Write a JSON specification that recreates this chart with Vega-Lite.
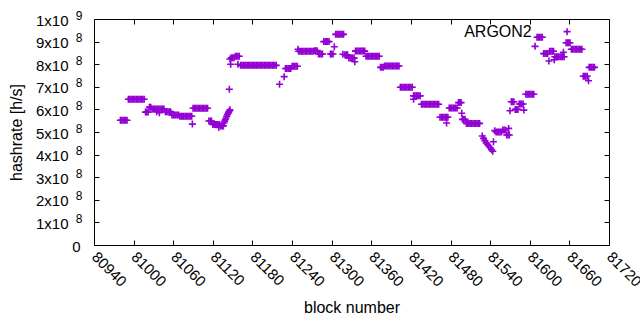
{
  "$schema": "https://vega.github.io/schema/vega-lite/v6.json",
  "autosize": "none",
  "width": 515,
  "height": 226,
  "padding": {"left": 94, "top": 19, "right": 31, "bottom": 85},
  "background": "white",
  "config": {
    "view": {"stroke": "black", "strokeWidth": 1},
    "font": "Liberation Sans",
    "axis": {"grid": false, "domain": false, "tickColor": "black", "tickSize": -5, "tickWidth": 1, "labelColor": "black", "labelFontSize": 15, "labelFont": "Liberation Sans", "titleFont": "Liberation Sans", "titleFontSize": 16, "titleFontWeight": "normal", "titleColor": "black", "labelOverlap": false, "labelFlush": false}
  },
  "datasets": {
    "pts": [
      {"b":80980,"h":5.52e8},{"b":80982,"h":5.52e8},{"b":80984,"h":5.52e8},{"b":80986,"h":5.52e8},{"b":80988,"h":5.52e8},{"b":80990,"h":5.52e8},
      {"b":80992,"h":6.45e8},{"b":80994,"h":6.45e8},{"b":80996,"h":6.45e8},{"b":80998,"h":6.45e8},{"b":81000,"h":6.45e8},{"b":81002,"h":6.45e8},{"b":81004,"h":6.45e8},{"b":81006,"h":6.45e8},{"b":81008,"h":6.45e8},{"b":81010,"h":6.45e8},{"b":81012,"h":6.45e8},{"b":81014,"h":6.45e8},{"b":81016,"h":6.45e8},
      {"b":81018,"h":5.88e8},{"b":81020,"h":5.88e8},{"b":81022,"h":5.88e8},
      {"b":81024,"h":6.1e8},{"b":81026,"h":6.1e8},
      {"b":81028,"h":6.02e8},{"b":81030,"h":6.02e8},{"b":81032,"h":6.02e8},{"b":81034,"h":6.02e8},{"b":81036,"h":6.02e8},{"b":81038,"h":6.02e8},{"b":81040,"h":6.02e8},{"b":81042,"h":6.02e8},{"b":81044,"h":6.02e8},{"b":81046,"h":6.02e8},
      {"b":81035,"h":5.9e8},{"b":81039,"h":5.85e8},
      {"b":81048,"h":5.9e8},{"b":81050,"h":5.9e8},{"b":81052,"h":5.9e8},{"b":81054,"h":5.9e8},{"b":81056,"h":5.9e8},
      {"b":81058,"h":5.75e8},{"b":81060,"h":5.75e8},{"b":81062,"h":5.75e8},{"b":81064,"h":5.75e8},{"b":81066,"h":5.75e8},{"b":81068,"h":5.75e8},
      {"b":81070,"h":5.7e8},{"b":81072,"h":5.7e8},{"b":81074,"h":5.7e8},{"b":81076,"h":5.7e8},{"b":81078,"h":5.7e8},{"b":81080,"h":5.7e8},{"b":81082,"h":5.7e8},{"b":81084,"h":5.7e8},{"b":81086,"h":5.7e8},{"b":81088,"h":5.7e8},
      {"b":81089,"h":5.35e8},
      {"b":81090,"h":6.05e8},{"b":81092,"h":6.05e8},{"b":81094,"h":6.05e8},{"b":81096,"h":6.05e8},{"b":81098,"h":6.05e8},{"b":81100,"h":6.05e8},{"b":81102,"h":6.05e8},{"b":81104,"h":6.05e8},{"b":81106,"h":6.05e8},{"b":81108,"h":6.05e8},{"b":81110,"h":6.05e8},{"b":81112,"h":6.05e8},
      {"b":81114,"h":5.49e8},{"b":81116,"h":5.49e8},{"b":81118,"h":5.49e8},
      {"b":81120,"h":5.33e8},{"b":81122,"h":5.33e8},{"b":81124,"h":5.33e8},{"b":81126,"h":5.33e8},{"b":81128,"h":5.33e8},{"b":81130,"h":5.33e8},
      {"b":81129,"h":5.2e8},
      {"b":81132,"h":5.27e8},{"b":81134,"h":5.27e8},{"b":81136,"h":5.27e8},
      {"b":81137,"h":5.4e8},{"b":81138,"h":5.48e8},{"b":81139,"h":5.55e8},{"b":81140,"h":5.62e8},{"b":81141,"h":5.7e8},{"b":81142,"h":5.76e8},{"b":81143,"h":5.82e8},{"b":81144,"h":5.88e8},{"b":81145,"h":5.93e8},{"b":81146,"h":5.98e8},
      {"b":81145,"h":6.89e8},{"b":81147,"h":8.0e8},{"b":81146,"h":8.23e8},
      {"b":81148,"h":8.28e8},{"b":81150,"h":8.28e8},{"b":81152,"h":8.28e8},
      {"b":81154,"h":8.35e8},{"b":81156,"h":8.35e8},{"b":81158,"h":8.35e8},{"b":81160,"h":8.35e8},
      {"b":81158,"h":8.0e8},
      {"b":81162,"h":7.95e8},{"b":81164,"h":7.95e8},{"b":81166,"h":7.95e8},{"b":81168,"h":7.95e8},{"b":81170,"h":7.95e8},{"b":81172,"h":7.95e8},{"b":81174,"h":7.95e8},{"b":81176,"h":7.95e8},{"b":81178,"h":7.95e8},{"b":81180,"h":7.95e8},{"b":81182,"h":7.95e8},{"b":81184,"h":7.95e8},{"b":81186,"h":7.95e8},{"b":81188,"h":7.95e8},{"b":81190,"h":7.95e8},{"b":81192,"h":7.95e8},{"b":81194,"h":7.95e8},{"b":81196,"h":7.95e8},{"b":81198,"h":7.95e8},{"b":81200,"h":7.95e8},{"b":81202,"h":7.95e8},{"b":81204,"h":7.95e8},{"b":81206,"h":7.95e8},{"b":81208,"h":7.95e8},{"b":81210,"h":7.95e8},{"b":81212,"h":7.95e8},{"b":81214,"h":7.95e8},{"b":81216,"h":7.95e8},
      {"b":81221,"h":7.11e8},{"b":81228,"h":7.45e8},
      {"b":81230,"h":7.81e8},{"b":81232,"h":7.81e8},{"b":81234,"h":7.81e8},{"b":81236,"h":7.81e8},{"b":81238,"h":7.81e8},
      {"b":81240,"h":7.91e8},{"b":81242,"h":7.91e8},{"b":81244,"h":7.91e8},{"b":81246,"h":7.91e8},{"b":81248,"h":7.91e8},
      {"b":81249,"h":8.66e8},
      {"b":81250,"h":8.57e8},{"b":81252,"h":8.57e8},{"b":81254,"h":8.57e8},{"b":81256,"h":8.57e8},{"b":81258,"h":8.57e8},{"b":81260,"h":8.57e8},{"b":81262,"h":8.57e8},{"b":81264,"h":8.57e8},{"b":81266,"h":8.57e8},{"b":81268,"h":8.57e8},{"b":81270,"h":8.57e8},{"b":81272,"h":8.57e8},
      {"b":81274,"h":8.6e8},{"b":81276,"h":8.6e8},{"b":81278,"h":8.6e8},
      {"b":81280,"h":8.45e8},{"b":81282,"h":8.45e8},{"b":81284,"h":8.45e8},{"b":81286,"h":8.45e8},
      {"b":81288,"h":9.0e8},{"b":81290,"h":9.0e8},{"b":81292,"h":9.0e8},{"b":81294,"h":9.0e8},{"b":81296,"h":9.0e8},
      {"b":81298,"h":8.45e8},{"b":81300,"h":8.45e8},{"b":81302,"h":8.45e8},
      {"b":81304,"h":8.77e8},
      {"b":81306,"h":9.32e8},{"b":81308,"h":9.32e8},{"b":81310,"h":9.32e8},{"b":81312,"h":9.32e8},{"b":81314,"h":9.32e8},{"b":81316,"h":9.32e8},{"b":81318,"h":9.32e8},
      {"b":81317,"h":8.44e8},
      {"b":81320,"h":8.42e8},{"b":81322,"h":8.42e8},{"b":81324,"h":8.42e8},
      {"b":81326,"h":8.27e8},{"b":81328,"h":8.27e8},{"b":81330,"h":8.27e8},{"b":81332,"h":8.27e8},{"b":81334,"h":8.27e8},
      {"b":81335,"h":8.11e8},
      {"b":81336,"h":8.58e8},{"b":81338,"h":8.58e8},{"b":81340,"h":8.58e8},{"b":81342,"h":8.58e8},{"b":81344,"h":8.58e8},{"b":81346,"h":8.58e8},{"b":81348,"h":8.58e8},{"b":81350,"h":8.58e8},
      {"b":81352,"h":8.35e8},{"b":81354,"h":8.35e8},{"b":81356,"h":8.35e8},{"b":81358,"h":8.35e8},{"b":81360,"h":8.35e8},{"b":81362,"h":8.35e8},{"b":81364,"h":8.35e8},{"b":81366,"h":8.35e8},{"b":81368,"h":8.35e8},{"b":81370,"h":8.35e8},{"b":81372,"h":8.35e8},
      {"b":81374,"h":7.86e8},{"b":81376,"h":7.86e8},{"b":81378,"h":7.86e8},
      {"b":81380,"h":7.92e8},{"b":81382,"h":7.92e8},{"b":81384,"h":7.92e8},{"b":81386,"h":7.92e8},{"b":81388,"h":7.92e8},{"b":81390,"h":7.92e8},{"b":81392,"h":7.92e8},{"b":81394,"h":7.92e8},{"b":81396,"h":7.92e8},{"b":81398,"h":7.92e8},{"b":81400,"h":7.92e8},{"b":81402,"h":7.92e8},
      {"b":81404,"h":6.98e8},{"b":81406,"h":6.98e8},{"b":81408,"h":6.98e8},{"b":81410,"h":6.98e8},{"b":81412,"h":6.98e8},{"b":81414,"h":6.98e8},{"b":81416,"h":6.98e8},{"b":81418,"h":6.98e8},{"b":81420,"h":6.98e8},{"b":81422,"h":6.98e8},
      {"b":81424,"h":6.6e8},{"b":81426,"h":6.6e8},{"b":81428,"h":6.6e8},{"b":81430,"h":6.6e8},{"b":81432,"h":6.6e8},{"b":81434,"h":6.6e8},
      {"b":81424,"h":6.45e8},
      {"b":81436,"h":6.23e8},{"b":81438,"h":6.23e8},{"b":81440,"h":6.23e8},{"b":81442,"h":6.23e8},{"b":81444,"h":6.23e8},{"b":81446,"h":6.23e8},{"b":81448,"h":6.23e8},{"b":81450,"h":6.23e8},{"b":81452,"h":6.23e8},{"b":81454,"h":6.23e8},{"b":81456,"h":6.23e8},{"b":81458,"h":6.23e8},{"b":81460,"h":6.23e8},{"b":81462,"h":6.23e8},
      {"b":81464,"h":5.65e8},{"b":81466,"h":5.65e8},{"b":81468,"h":5.65e8},{"b":81470,"h":5.65e8},{"b":81472,"h":5.65e8},{"b":81474,"h":5.65e8},{"b":81476,"h":5.65e8},
      {"b":81474,"h":5.4e8},
      {"b":81478,"h":6.06e8},{"b":81480,"h":6.06e8},{"b":81482,"h":6.06e8},{"b":81484,"h":6.06e8},{"b":81486,"h":6.06e8},{"b":81488,"h":6.06e8},{"b":81490,"h":6.06e8},
      {"b":81492,"h":6.3e8},{"b":81494,"h":6.3e8},{"b":81496,"h":6.3e8},
      {"b":81497,"h":5.83e8},
      {"b":81498,"h":5.56e8},{"b":81500,"h":5.56e8},{"b":81502,"h":5.56e8},
      {"b":81504,"h":5.38e8},{"b":81506,"h":5.38e8},{"b":81508,"h":5.38e8},{"b":81510,"h":5.38e8},{"b":81512,"h":5.38e8},{"b":81514,"h":5.38e8},{"b":81516,"h":5.38e8},{"b":81518,"h":5.38e8},{"b":81520,"h":5.38e8},{"b":81522,"h":5.38e8},{"b":81524,"h":5.38e8},
      {"b":81528,"h":4.82e8},
      {"b":81530,"h":4.72e8},{"b":81532,"h":4.62e8},{"b":81534,"h":4.52e8},{"b":81536,"h":4.45e8},{"b":81538,"h":4.38e8},{"b":81540,"h":4.3e8},{"b":81542,"h":4.22e8},{"b":81544,"h":4.15e8},
      {"b":81545,"h":4.57e8},
      {"b":81547,"h":5.06e8},{"b":81549,"h":5.0e8},{"b":81551,"h":5.0e8},{"b":81553,"h":5.0e8},{"b":81555,"h":5.0e8},{"b":81557,"h":5.0e8},
      {"b":81559,"h":5.09e8},{"b":81561,"h":5.09e8},{"b":81563,"h":5.09e8},
      {"b":81565,"h":4.87e8},{"b":81567,"h":4.87e8},{"b":81569,"h":4.87e8},
      {"b":81568,"h":5.16e8},
      {"b":81570,"h":5.94e8},
      {"b":81572,"h":6.34e8},{"b":81574,"h":6.34e8},{"b":81576,"h":6.34e8},
      {"b":81578,"h":6.0e8},{"b":81580,"h":6.0e8},{"b":81582,"h":6.0e8},
      {"b":81584,"h":6.24e8},{"b":81586,"h":6.24e8},{"b":81588,"h":6.24e8},{"b":81590,"h":6.24e8},
      {"b":81591,"h":5.97e8},
      {"b":81594,"h":6.67e8},{"b":81596,"h":6.67e8},{"b":81598,"h":6.67e8},{"b":81600,"h":6.67e8},{"b":81602,"h":6.67e8},{"b":81604,"h":6.67e8},{"b":81606,"h":6.67e8},
      {"b":81608,"h":8.79e8},
      {"b":81611,"h":9.19e8},{"b":81613,"h":9.19e8},{"b":81615,"h":9.19e8},{"b":81617,"h":9.19e8},{"b":81619,"h":9.19e8},
      {"b":81621,"h":8.47e8},{"b":81623,"h":8.47e8},{"b":81625,"h":8.47e8},{"b":81627,"h":8.47e8},
      {"b":81629,"h":8.14e8},
      {"b":81630,"h":8.57e8},{"b":81632,"h":8.57e8},{"b":81634,"h":8.57e8},{"b":81636,"h":8.57e8},
      {"b":81637,"h":8.2e8},
      {"b":81638,"h":8.33e8},{"b":81640,"h":8.33e8},{"b":81642,"h":8.33e8},{"b":81644,"h":8.33e8},{"b":81646,"h":8.33e8},{"b":81648,"h":8.33e8},{"b":81650,"h":8.33e8},{"b":81652,"h":8.33e8},
      {"b":81651,"h":8.53e8},
      {"b":81655,"h":8.95e8},{"b":81657,"h":8.95e8},{"b":81659,"h":8.95e8},{"b":81661,"h":8.95e8},
      {"b":81663,"h":8.66e8},{"b":81665,"h":8.66e8},{"b":81667,"h":8.66e8},{"b":81669,"h":8.66e8},{"b":81671,"h":8.66e8},{"b":81673,"h":8.66e8},{"b":81675,"h":8.66e8},{"b":81677,"h":8.66e8},{"b":81679,"h":8.66e8},
      {"b":81681,"h":7.47e8},{"b":81683,"h":7.47e8},{"b":81685,"h":7.47e8},{"b":81687,"h":7.47e8},
      {"b":81689,"h":7.27e8},
      {"b":81690,"h":7.86e8},{"b":81692,"h":7.86e8},{"b":81694,"h":7.86e8},{"b":81696,"h":7.86e8},{"b":81698,"h":7.86e8}
    ],
    "key": [{"t": "ARGON2", "bt": 81603, "bp": 81656.5, "h": 9.44e8}]
  },
  "layer": [
    {
      "data": {"name": "pts"},
      "mark": {"type": "point", "shape": "M-1,0H1M0,-1V1", "size": 49, "filled": false, "stroke": "#9400D3", "strokeWidth": 1.6, "opacity": 1},
      "encoding": {
        "x": {"field": "b", "type": "quantitative", "scale": {"domain": [80940, 81720], "nice": false, "zero": false},
          "axis": {"orient": "bottom", "values": [80940,81000,81060,81120,81180,81240,81300,81360,81420,81480,81540,81600,81660,81720], "format": "d", "labelAngle": 45, "labelAlign": "left", "labelBaseline": "middle", "labelPadding": 14, "title": "block number", "titlePadding": 10}},
        "y": {"field": "h", "type": "quantitative", "scale": {"domain": [0, 1000000000], "nice": false, "zero": true},
          "axis": {"orient": "left", "values": [0,100000000,200000000,300000000,400000000,500000000,600000000,700000000,800000000,900000000,1000000000], "labelExpr": "datum.value == 0 ? '0' : round(datum.value / (datum.value >= 1000000000 ? 1000000000 : 100000000)) + 'x10'", "labelPadding": {"condition": {"test": "datum.value == 0", "value": 19}, "value": 31}, "labelOffset": 1, "title": "hashrate [h/s]", "titlePadding": 11}}
      }
    },
    {
      "data": {"name": "key"},
      "mark": {"type": "text", "align": "right", "baseline": "middle", "fontSize": 16, "font": "Liberation Sans", "color": "black"},
      "encoding": {
        "x": {"field": "bt", "type": "quantitative", "axis": {"orient": "top", "values": [80940,81000,81060,81120,81180,81240,81300,81360,81420,81480,81540,81600,81660,81720], "labels": false, "title": null}},
        "y": {"field": "h", "type": "quantitative", "axis": {"orient": "left", "values": [100000000,200000000,300000000,400000000,500000000,600000000,700000000,800000000,900000000,1000000000], "ticks": false, "labelExpr": "datum.value >= 1000000000 ? '9' : '8'", "labelFontSize": 12, "labelOffset": -4, "labelPadding": 12, "title": null}},
        "text": {"field": "t"}
      }
    },
    {
      "data": {"name": "key"},
      "mark": {"type": "point", "shape": "M-1,0H1M0,-1V1", "size": 49, "filled": false, "stroke": "#9400D3", "strokeWidth": 1.6, "opacity": 1},
      "encoding": {
        "x": {"field": "bp", "type": "quantitative", "axis": null},
        "y": {"field": "h", "type": "quantitative", "axis": {"orient": "right", "values": [0,100000000,200000000,300000000,400000000,500000000,600000000,700000000,800000000,900000000,1000000000], "labels": false, "title": null}}
      }
    }
  ],
  "resolve": {"axis": {"x": "independent", "y": "independent"}}
}
